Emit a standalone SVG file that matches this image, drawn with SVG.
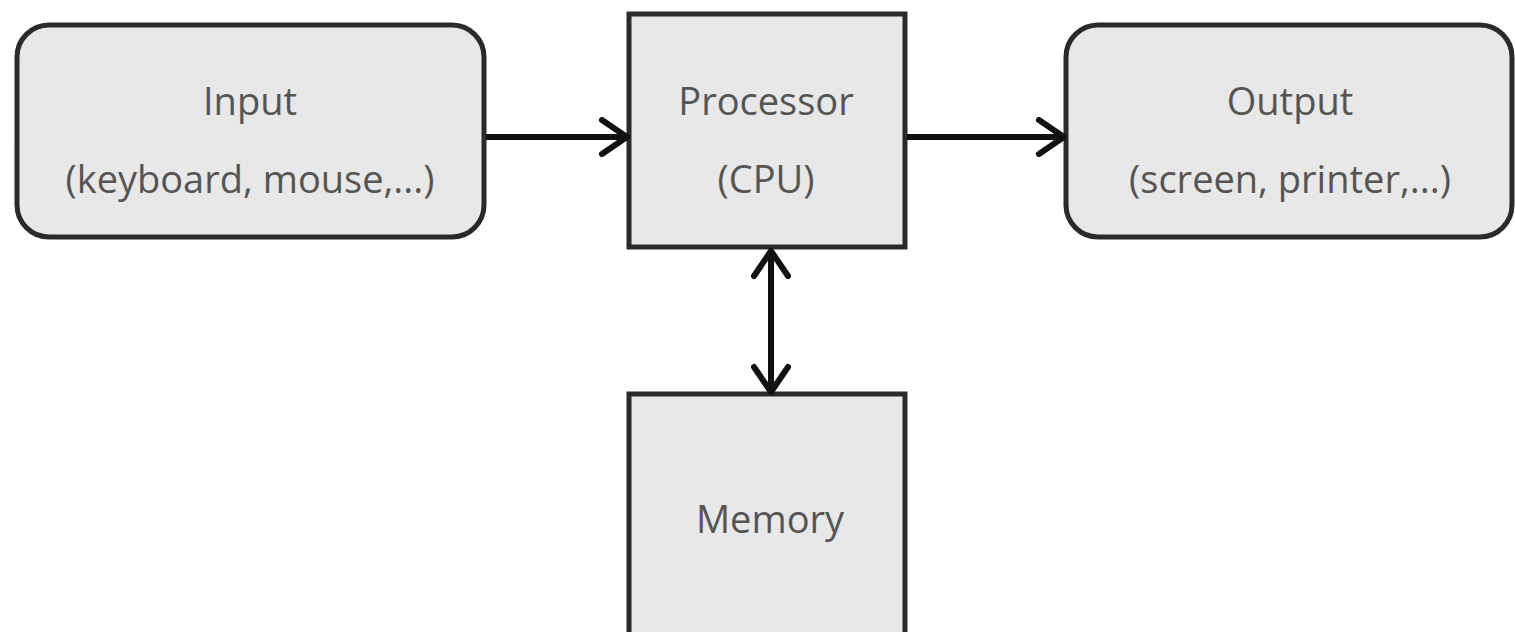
<svg xmlns="http://www.w3.org/2000/svg" width="1515" height="632" viewBox="0 0 1515 632">
<defs>
<style>
.box{fill:#e8e8e8;stroke:#2a2a2a;stroke-width:5}
.t{font-family:"Open Sans","Noto Sans",sans-serif;font-size:38px;fill:#555;text-anchor:middle}
.c{stroke:#111;stroke-width:6;fill:none}
</style>
<marker id="ah" viewBox="0 0 32 40" refX="29" refY="20" markerWidth="32" markerHeight="40" markerUnits="userSpaceOnUse" orient="auto-start-reverse">
<path d="M4,3 L29,20 L4,37" fill="none" stroke="#111" stroke-width="6" stroke-linecap="round" stroke-linejoin="miter"/>
</marker>
</defs>
<rect width="1515" height="632" fill="#fff"/>
<g id="input">
<rect class="box" x="17" y="25" width="467" height="212" rx="32"/>
<text class="t" x="250" y="115">Input</text>
<text class="t" x="250" y="193">(keyboard, mouse,...)</text>
</g>
<g id="processor">
<rect class="box" x="629" y="14" width="276" height="233"/>
<text class="t" x="766" y="115">Processor</text>
<text class="t" x="766" y="193">(CPU)</text>
</g>
<g id="output">
<rect class="box" x="1066" y="25" width="446" height="212" rx="32"/>
<text class="t" x="1290" y="115">Output</text>
<text class="t" x="1290" y="193">(screen, printer,...)</text>
</g>
<g id="memory">
<rect class="box" x="629" y="394" width="276" height="245"/>
<text class="t" x="770" y="533">Memory</text>
</g>
<g id="connectors">
<line class="c" x1="486" y1="137" x2="627" y2="137" marker-end="url(#ah)"/>
<line class="c" x1="907" y1="137" x2="1064" y2="137" marker-end="url(#ah)"/>
<line class="c" x1="771" y1="251" x2="771" y2="392" marker-start="url(#ah)" marker-end="url(#ah)"/>
</g>
</svg>
